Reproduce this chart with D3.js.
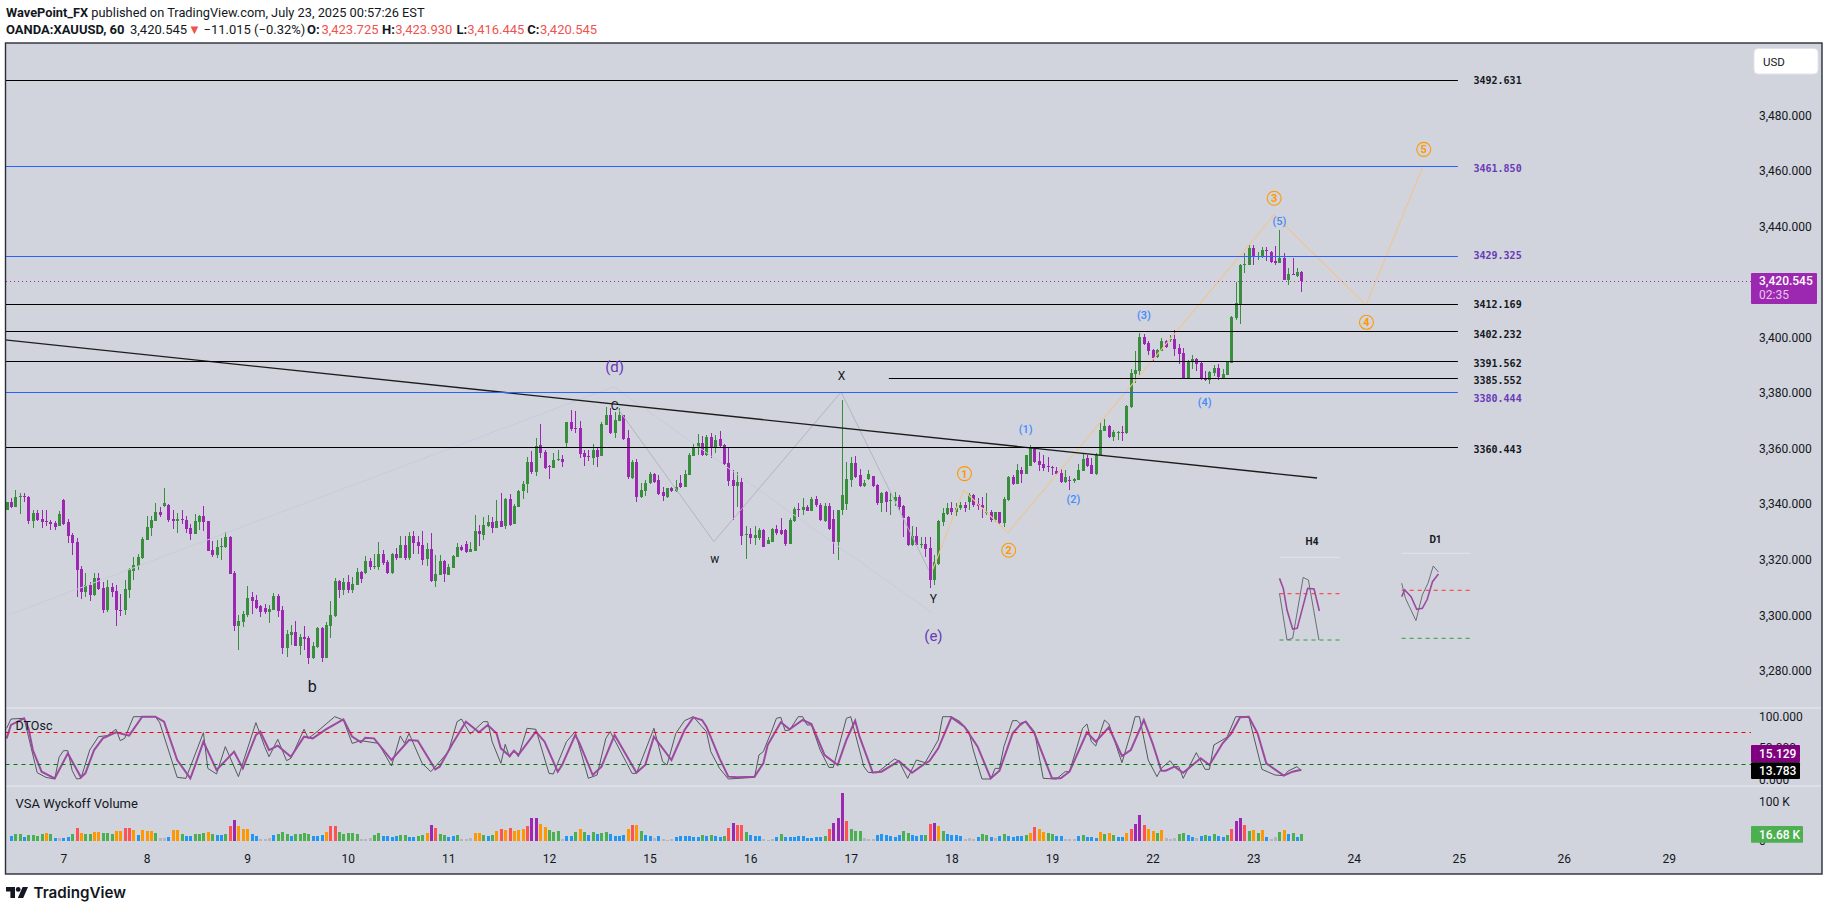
<!DOCTYPE html>
<html>
<head>
<meta charset="utf-8">
<script src="https://cdn.jsdelivr.net/npm/d3@7"></script>
<style>
  html, body { margin: 0; padding: 0; background: #fff; overflow: hidden; }
  svg { display: block; font-family: Roboto, sans-serif; }
</style>
</head>
<body>
<svg id="chart" width="1829" height="911"></svg>
<script>
// hourly candles
const opens = [
  3337.9,3340.9,3339.1,3342.7,3342.9,3342.7,3334.1,3336.8,3334.5,3333.8,
  3333.6,3333.2,3332.3,3341.6,3333.6,3328.9,3326.4,3316.7,3308.4,3310.9,
  3307.3,3313.4,3309.8,3301.9,3310.2,3308.7,3301.9,3301.7,3309.1,3315.9,
  3317.7,3320.6,3327.1,3331.4,3334.1,3337.2,3339.3,3339.7,3334.7,3333.9,
  3334.7,3334.3,3331.4,3329.3,3333.6,3335.7,3333.9,3323.5,3321.7,3324.6,
  3324.6,3328.2,3315.2,3296.1,3297.6,3300.1,3306.6,3305.5,3303.3,3302.6,
  3301.2,3301.9,3306.9,3301.9,3288.2,3292.9,3294,3288.9,3292.2,3291.8,
  3284.6,3288.6,3295.4,3284.6,3296.1,3299.7,3312.3,3309.1,3312,3309.1,
  3310.9,3315.6,3315.2,3319.5,3317.4,3317.4,3322.1,3319.2,3315.2,3322.1,
  3320.6,3325.3,3320.6,3328.5,3326.4,3325.3,3320.3,3323.9,3312.3,3314.5,
  3319.5,3314.5,3317,3321,3324.6,3325.7,3322.8,3323.1,3330.3,3328.9,
  3332.1,3333.6,3331.4,3333.9,3332.1,3341.9,3332.9,3339,3344.7,3347.3,
  3355.2,3351.6,3361.3,3358.8,3353.7,3353,3355.9,3356.3,3362,3369.6,
  3367.4,3367.4,3358.4,3357.3,3356.6,3359.5,3357.3,3368.5,3372.1,3365.5,
  3370.1,3372.1,3363.7,3349.4,3355.2,3342.6,3344.8,3347.5,3350.9,3348.7,
  3344.4,3342.6,3345.8,3344.8,3347.6,3346.2,3350.5,3357.4,3360.2,3362,
  3357.7,3364.2,3360.6,3363.5,3361.3,3354.9,3348.7,3346.6,3348,3328.9,
  3329.3,3327.9,3327.9,3330.7,3325.7,3326.4,3331.1,3330.7,3330.7,3325.7,
  3334,3338.3,3337.9,3339,3337.6,3341.9,3339.7,3334,3339.4,3334.7,
  3326.4,3337.9,3340.1,3348.7,3354.9,3350.5,3346.6,3349.1,3350.2,3346.9,
  3340.4,3344.4,3341.2,3341.2,3342.6,3339.4,3335.4,3325.3,3328.6,3325.3,
  3325.7,3324.2,3312.7,3318.5,3333.6,3336.5,3338.7,3337.2,3338.5,3339.7,
  3340.8,3343.3,3340.1,3339.7,3336.9,3337.2,3334.3,3337.2,3333.2,3341.5,
  3349.8,3347.3,3352.3,3350.9,3353.8,3359.9,3355.6,3354.5,3353.8,3353.5,
  3352,3351.2,3348,3348.7,3348.2,3348.7,3352,3356.7,3354.1,3350.9,
  3357.8,3366.4,3368.2,3364.2,3365.9,3366,3365.7,3375,3387,3388,
  3400.2,3398.1,3395.6,3393,3395.2,3398.8,3399.2,3399.5,3396.3,3394.5,
  3385.5,3391.6,3392.3,3390.9,3385.5,3384.6,3387.2,3389.1,3385.5,3386.6,
  3390.9,3407.1,3412.1,3426.4,3426.2,3432.3,3429.1,3429.1,3431.6,3430.8,
  3427.6,3426.9,3428.7,3420.8,3422.9,3422.2,3423.725
]
const highs = [
  3340.9,3342.1,3345.1,3343.9,3343.9,3342.9,3337.9,3337.9,3337.9,3337.9,
  3334.3,3334.1,3337.5,3342,3334.5,3329.5,3327.7,3317.7,3315.2,3312.1,
  3315.1,3315.1,3312.1,3312.7,3311.7,3310.9,3307.7,3312.7,3316.9,3321.1,
  3322.1,3328.3,3335.7,3335.7,3340.5,3339.1,3345.8,3340.1,3337.9,3336.7,
  3337.9,3335.7,3332.9,3336.5,3336.1,3339.3,3333.9,3326.9,3327.1,3327.7,
  3330,3328.5,3315.9,3300.1,3301.5,3310.5,3308.4,3307.3,3303.7,3304.1,
  3303.7,3308,3307.7,3303.3,3294.7,3296.5,3297.9,3293.3,3296.1,3292.5,
  3290.4,3295.8,3295.9,3297.6,3305.1,3313.3,3312.7,3313.5,3314.5,3313.9,
  3317,3315.9,3321.3,3320.5,3322.1,3326.4,3323.5,3319.9,3322.5,3324.2,
  3328.5,3328.5,3330,3330.2,3328.5,3330.3,3325.9,3329.6,3321.7,3321.7,
  3319.9,3318.5,3321.7,3326,3325.3,3326.7,3326.4,3336.1,3332.5,3335.5,
  3336.1,3335.4,3341.5,3344,3342.2,3343.7,3340.1,3345.1,3348.3,3357,
  3359.1,3363.8,3368.9,3359.5,3354.1,3358.4,3359.5,3357.7,3369.6,3373.9,
  3373.5,3369.9,3359.5,3359.5,3361.7,3360.7,3369.6,3374.9,3374.5,3373.3,
  3374.5,3372.1,3366.7,3355.9,3356.3,3347.5,3348.7,3351.6,3351.2,3350.5,
  3346.3,3345.8,3346.3,3348.7,3350.5,3352.3,3358.3,3361.7,3365.3,3364.6,
  3364.9,3365.5,3364.9,3366.4,3361.7,3360.5,3352.3,3351.6,3349.8,3332,
  3331.3,3332,3331.3,3331.1,3328.3,3331.3,3332.5,3334.9,3331.1,3334.9,
  3338.8,3340.3,3342.1,3339.7,3342.7,3342.9,3340.3,3340.3,3340.3,3337.9,
  3337.9,3377.5,3355.2,3357.1,3357.4,3352.6,3348.7,3352.3,3350.2,3347.3,
  3344.5,3344.9,3343.9,3344.5,3343.3,3339.7,3335.8,3332.2,3331.9,3328.3,
  3328.3,3328.3,3321.7,3334.3,3338.5,3340.3,3340.9,3340.3,3340.9,3340.8,
  3343.9,3343.7,3342.1,3342.7,3343.9,3337.9,3337.3,3337.3,3342.7,3350.2,
  3350.5,3354.5,3353.5,3357.7,3361.3,3360.4,3358.9,3357.7,3357.1,3353.8,
  3353.5,3352.7,3352.3,3350.2,3349.3,3354.5,3358.3,3357.7,3356.7,3358.3,
  3369.6,3370.7,3368.6,3366.8,3366.3,3368.2,3375.8,3388.6,3395.2,3401.8,
  3401.3,3398.6,3395.8,3395.8,3399.8,3399.2,3401,3402.8,3397.7,3396.2,
  3392,3393.8,3392.6,3391.4,3388,3387.8,3390.2,3390.5,3388.6,3391.6,
  3407.8,3420,3426.5,3430.5,3433.4,3433.4,3430.8,3432.5,3432.8,3431.2,
  3433,3438.8,3430.5,3425.1,3428.8,3425.1,3423.93
]
const lows = [
  3337.9,3338.5,3339.1,3336.5,3340.9,3332.9,3331.4,3334.1,3331.4,3332.1,
  3330.7,3330.7,3332.1,3332.5,3326.1,3321.7,3306.7,3305.9,3306.7,3305.1,
  3306.9,3308.9,3300.9,3301.3,3306.7,3296.1,3299.7,3300.1,3306.2,3312.7,
  3316.1,3320.4,3327.1,3328.5,3334.1,3335.5,3339.1,3333.6,3330.9,3329.7,
  3332.9,3329.7,3327.1,3329.3,3330.7,3330.3,3323.1,3321,3320.6,3319.9,
  3324.1,3314.9,3294.3,3287.3,3295.8,3299.5,3300.5,3302.1,3299.5,3300.5,
  3297.2,3301.7,3299.4,3286.1,3285,3289.3,3288.9,3285.7,3287.5,3282.5,
  3284.3,3288.1,3283.2,3284.6,3291.8,3299.4,3306.2,3307.3,3308.1,3308.1,
  3310.9,3311.7,3314.9,3316.3,3316.5,3316.3,3318.1,3314.9,3314.9,3319.9,
  3320.6,3319.9,3319.9,3322.1,3322.1,3318.1,3317.7,3312,3310.3,3314.5,
  3312,3314.5,3317,3321,3323.1,3322.4,3322.8,3323.1,3325,3327.1,
  3331.8,3329.6,3331.4,3331.8,3331.1,3332.1,3332.9,3339,3341.9,3344,
  3350.9,3350.1,3356.6,3352.5,3349.1,3353,3355.5,3353.4,3360.1,3366.3,
  3365.5,3356.6,3353.7,3355.5,3354,3353.4,3357.3,3368.5,3365.2,3363.8,
  3370.1,3363.1,3349,3349,3340.8,3342.1,3343,3347.3,3347.5,3343.3,
  3341.2,3342.3,3344.4,3344.4,3345.8,3346.2,3350.5,3357.4,3357.7,3357.4,
  3357.4,3356.6,3358.3,3360.7,3354.1,3346.6,3334.3,3339.1,3325.3,3320.3,
  3325.7,3325.3,3327.1,3324.6,3325.7,3326.4,3328.9,3328.9,3325,3325.7,
  3333.7,3335.5,3336.1,3337.6,3337.6,3339.1,3334,3333.6,3330.7,3322.1,
  3319.7,3336.1,3337.9,3346.3,3349.3,3346.2,3346.2,3348.7,3346.2,3339.7,
  3337.2,3337.2,3336.1,3339.4,3337.9,3328.3,3325,3325,3325,3324.1,
  3321.1,3309.9,3310.9,3318.1,3332.2,3336.1,3336.1,3335.8,3337.9,3337.3,
  3337.9,3339.1,3337.9,3334.9,3336.1,3333.7,3333.7,3332.9,3331.9,3341.3,
  3346.9,3347.3,3347.5,3350.9,3353.8,3354.7,3352,3352,3351.4,3350.5,
  3350.5,3347.5,3347.5,3345.1,3347.5,3348.7,3352,3353.5,3350.7,3350.5,
  3357.8,3366.2,3363.8,3362.9,3363.2,3362.9,3365.3,3374.6,3383.6,3386.2,
  3397.4,3393.8,3391.4,3392.8,3395.2,3396.3,3398.4,3393.2,3390.5,3385.2,
  3385.2,3388.7,3387.8,3384.8,3384.4,3383.3,3386,3384.8,3385.4,3386.6,
  3390.9,3406.4,3404.9,3423.3,3426.2,3426.2,3428,3428.8,3427.6,3427,
  3426.2,3426.9,3420.8,3419,3422.6,3421.8,3416.445
]
const closes = [
  3340.9,3338.9,3342.6,3342.9,3342.7,3334.1,3336.8,3334.3,3333.6,3333.6,
  3332.9,3331.8,3336.5,3332.9,3328.7,3326.1,3316.3,3308.4,3310.9,3307.3,
  3313.4,3309.5,3301.9,3310.2,3308.4,3301.7,3301.7,3309.5,3316.7,3318.1,
  3321,3327.5,3331.8,3334.3,3337.2,3336.1,3340.4,3334.3,3333.9,3334.7,
  3334.3,3331.1,3329.3,3333.9,3335.7,3333.6,3323.1,3321.7,3324.6,3324.9,
  3328.2,3314.9,3296.1,3297.9,3300.5,3306.2,3305.1,3302.6,3301.2,3301.2,
  3302.3,3306.9,3301.5,3288.2,3293.3,3294,3288.9,3292.2,3291.5,3284.6,
  3288.9,3295.4,3284.6,3296.5,3300.1,3312.3,3309.1,3312,3309.1,3311.3,
  3315.6,3313.1,3319.5,3317.4,3317.7,3322.1,3318.8,3315.2,3322.1,3320.6,
  3325.3,3320.6,3328.5,3326,3324.9,3319.9,3323.9,3312.3,3314.9,3319.5,
  3314.9,3317.4,3321.3,3324.6,3323.5,3322.8,3323.9,3330.3,3329.3,3332.5,
  3333.6,3331.4,3333.9,3331.9,3341.9,3332.5,3339.3,3344.7,3347.3,3355.2,
  3351.6,3360.9,3358.4,3353,3353.4,3355.9,3356.3,3355.2,3369.6,3367.1,
  3367.1,3358.1,3357,3357,3359.5,3357,3368.9,3372.1,3365.5,3370.3,
  3372.1,3363.5,3349.8,3355.2,3342.6,3345.1,3347.6,3350.9,3348,3343.7,
  3343,3345.8,3344.8,3346.2,3346.2,3350.9,3357.7,3360.6,3362,3357.7,
  3364.2,3360.6,3363.1,3361,3354.5,3348.4,3346.6,3348,3328.6,3329.3,
  3327.9,3328.9,3330.7,3324.6,3327.1,3331.1,3329.6,3329.3,3325.7,3334.3,
  3338.3,3337.9,3339,3337.6,3341.9,3339.7,3334.3,3339.4,3331.1,3326.4,
  3337.9,3343.3,3349.1,3354.9,3349.8,3346.6,3347.6,3350.9,3346.6,3340.4,
  3344,3340.8,3341.5,3342.6,3339,3335,3325.3,3328.6,3325.3,3325.7,
  3323.9,3312.7,3319.2,3334,3336.9,3338.7,3337.2,3338.7,3339.7,3338.7,
  3343.3,3339.7,3339.4,3338.7,3337.2,3334.3,3337.2,3333.2,3341.9,3349.8,
  3347.3,3352.3,3350.9,3357.7,3360.2,3355.2,3354.1,3353.1,3353.4,3353.1,
  3350.9,3348,3349.8,3348.2,3349,3352.3,3356.3,3353.8,3350.9,3357.7,
  3366.8,3368.2,3364.2,3366,3366,3365.9,3375.4,3387.3,3388.4,3400.2,
  3397.7,3395.2,3392.7,3395.6,3398.8,3396.6,3399.4,3395.9,3394.1,3385.5,
  3391.6,3392.3,3390.5,3385.1,3384.6,3387.5,3389.1,3385.8,3386.9,3391.2,
  3407.4,3412.5,3426.2,3426.5,3432.3,3429.1,3429.4,3431.6,3431.2,3427.2,
  3426.9,3428.7,3420.8,3422.9,3422.6,3423.6,3420.545
]

// volume in thousands, starts at bar 1 (bar 0 is cut by the left edge)
const volumes = [
  12.8,18,18,10.3,15.4,15.4,12.8,18,20.5,18,
  7.7,7.7,7.7,10.3,18,33.3,20.5,18,18,23.1,
  23.1,20.5,20.5,18,25.7,25.7,33.3,33.3,28.2,15.4,
  28.2,25.7,25.7,20.5,7.7,7.7,10.3,28.2,28.2,18,
  12.8,12.8,18,18,20.5,23.1,18,15.4,15.4,18,
  38.5,53.9,38.5,30.8,30.8,18,12.8,5.1,5.1,7.7,
  15.4,18,23.1,18,12.8,18,18,20.5,18,12.8,
  12.8,15.4,23.1,38.5,38.5,23.1,18,20.5,20.5,18,
  5.1,5.1,7.7,15.4,20.5,12.8,12.8,10.3,12.8,15.4,
  15.4,10.3,10.3,12.8,15.4,20.5,41,33.3,18,
  15.4,10.3,12.8,15.4,5.1,5.1,7.7,20.5,20.5,15.4,
  12.8,15.4,25.7,30.8,28.2,33.3,25.7,28.2,30.8,38.5,
  59,59,43.6,35.9,28.2,23.1,25.7,5.1,12.8,12.8,
  23.1,30.8,23.1,15.4,23.1,18,20.5,23.1,18,12.8,
  12.8,15.4,30.8,41,41,25.7,15.4,12.8,7.7,12.8,
  5.1,2.6,5.1,10.3,12.8,12.8,12.8,10.3,10.3,15.4,
  12.8,15.4,12.8,10.3,12.8,33.3,46.2,41,41,23.1,
  15.4,12.8,12.8,5.1,2.6,5.1,10.3,18,10.3,10.3,
  10.3,12.8,12.8,7.7,7.7,10.3,10.3,12.8,30.8,46.2,
  59,123.1,51.3,30.8,25.7,25.7,7.7,5.1,5.1,15.4,
  18,15.4,12.8,10.3,15.4,25.7,20.5,15.4,12.8,15.4,
  15.4,43.6,46.2,38.5,25.7,18,15.4,15.4,12.8,5.1,
  7.7,5.1,10.3,18,15.4,10.3,7.7,12.8,18,12.8,
  10.3,12.8,12.8,15.4,20.5,35.9,30.8,23.1,20.5,18,
  12.8,12.8,5.1,5.1,5.1,12.8,15.4,10.3,10.3,7.7,
  23.1,18,20.5,15.4,10.3,10.3,20.5,30.8,43.6,66.7,
  41,30.8,25.7,20.5,28.2,7.7,5.1,7.7,18,20.5,
  15.4,10.3,7.7,12.8,15.4,12.8,18,12.8,10.3,15.4,
  30.8,51.3,59,41,25.7,28.2,20.5,28.2,10.3,5.1,
  10.3,23.1,28.2,18,20.5,10.3,16.68
]
// VSA class per bar: Y low, B below average, G average, O above, R high, P climax
const volumeClasses = [
  "BGGBGGGGOG","BYBBGROGGO","OGGGOORROB","OOOGYYBOOG","BBGGGOGBBG",
  "RPOOOBBYYY","BGGGBGGGGB","BBORRGGGGG","YYYGGBBBBG","GBBGGOPRG",
  "GBBGYYYOOG","BGOROROOOR","PPOOGGGYBB","GOGBGBGGBB","BBOROGBBYB",
  "YYYBBBBBBG","BGBBGRPRRG","BBBYYYBGBB","BBBBBBBGRP","PPRGGGYYYB",
  "BBBBBGGBBB","GRPOGBBBBY","YYBGGBYBGB","BBBGOROOGG","BBYYYBGBBB",
  "OGOGBBORPP","ROOGOYYYGG","BBYBGBGBBG","RPPRGOGOBY","YGOBGBG"
].join("")

// DTOsc turning points
const oscFastBars = [0,1,4,5,7,9,11,12,13,14,15,16,17,19,21,23,25,26,27,29,34,35,39,41,45,46,48,50,53,57,59,60,62,64,65,68,69,71,75,77,79,81,85,88,90,91,92,95,97,101,103,104,106,109,110,111,113,114,115,116,117,119,121,124,125,128,130,133,135,137,138,143,144,148,150,151,153,155,157,159,160,161,163,165,171,172,173,175,176,177,178,179,181,182,183,184,186,188,189,192,193,196,197,199,203,204,206,208,210,213,214,216,218,220,221,223,225,226,227,228,230,231,232,233,235,237,240,242,243,246,247,248,249,251,252,255,257,258,259,261,263,264,266,267,268,269,272,274,275,276,279,281,284,287,290,292,293,295,296]
const oscFastValues = [81.2,96,97.1,67.9,10.5,3.1,0.5,35,45.6,45.6,13.7,0.5,1.5,46.6,67.9,69.5,79.6,61.5,65.2,99.7,99.7,90.2,3.1,1.5,74.3,17.4,8.4,52,4.2,90.2,52,36,63.6,29.7,33.4,79.6,65.2,75.9,99.7,94.4,57.3,61.5,57.3,21.2,69,57.3,73.2,25.4,12.1,44,91.8,96,72.1,91.8,91.8,59.9,25.4,55.7,35,46.6,36,81.2,79.6,9.5,8.4,59.9,75.9,1.5,6.8,65.2,75.9,9.5,9.5,81.2,28,22.8,73.2,93.4,99.7,83.8,75.9,44,17.4,0.5,3.1,38.7,44,78.5,97.1,98.7,77.4,78.5,99.7,99.7,86.5,86.5,46.6,19,19,97.1,99.7,20.1,11,10.5,32.3,29.1,1.5,30.7,26.5,62.6,99.7,99.7,91.8,75.9,46.6,0.5,0.5,17.4,17.4,52,93.4,93.4,86.5,92.8,75.9,1.5,0.5,12.1,12.1,81.2,88.1,59.9,53,94.4,88.1,26.5,73.2,99.7,99.7,30.7,4.2,17.4,29.7,20.1,20.1,1.5,42.4,15.9,15.9,54.6,66.8,99.7,99.7,15.9,6.8,5.8,13.2,20.1,13.8]
const oscSlowBars = [0,1,4,5,6,8,11,14,17,18,20,22,25,28,31,34,36,39,42,43,45,48,52,54,57,58,60,62,65,68,70,73,77,79,81,82,84,88,92,94,98,99,102,105,108,110,112,113,115,116,117,121,123,126,127,130,131,134,136,139,141,144,146,148,152,155,157,159,160,163,165,167,171,173,174,177,179,182,184,187,190,192,194,195,198,200,204,207,210,211,213,216,219,222,225,227,230,232,233,235,239,241,243,247,249,252,255,257,260,262,264,265,267,269,273,275,278,280,282,284,286,288,292,294,296]
const oscSlowValues = [65,86.5,97.1,81.2,46.6,12.1,1.5,41.3,3.1,9.5,46.6,65.2,74.8,69.5,99.7,99.7,91.8,30.7,1.5,20.1,59.9,14.8,44,17.4,70.5,75.9,46.6,53.6,36,67.9,65.2,79.6,95.5,67.9,58.9,66.3,65.2,30.7,62.6,61.5,15.9,20.1,57.3,91.8,74.8,86.5,73.2,49.3,37.1,45.6,38.7,75.9,59.9,12.1,22.8,70.5,57.3,6.8,20.1,70.5,46.6,10.5,22.8,67.9,30.7,78.5,98.7,94.4,83.8,33.4,4.2,3.1,4.2,25.4,54.6,90.7,79.6,94.4,88.1,38.7,22.8,62.6,93.4,67.9,11,12.1,29.1,10.5,25.4,29.1,49.3,98.7,83.8,52,1.5,13.7,73.2,89.1,91.8,73.2,1.5,1.5,12.1,74.8,59.9,82.8,37.1,46.6,94.4,57.3,13.7,13.7,20.1,10.5,33.4,22.8,57.3,73.2,98.7,99.7,73.2,25.4,5.8,12.1,15.129]

// drawn horizontal levels
const levelPrices = [3492.631,3461.85,3429.325,3412.169,3402.232,3391.562,3385.552,3380.444,3360.443]
const levelKinds = ["black","blue","blue","black","black","black","black","blue","black"]
const levelStartBars = [-3,-3,-3,-3,-3,-3,201.7,-3,-3]
const levelEndBar = 331.8
const levelLabelDy = [0,3,-1,1,3.5,2,3,7,2.5]

// wave paths as [bar, price]
const trendLine = [[-3,3399.6],[299.6,3349.4]]
const faintWave = [[0.5,3300.1],[138.8,3382.3],[211.7,3300.7]]
const greyWave = [[139.7,3374.5],[161.7,3326.5],[190.8,3380.4],[210.8,3316.3]]
const peachWave = [[211.7,3316.3],[218.8,3345],[228.9,3329.7],[289.8,3444.2],[310.8,3411.7],[323.8,3461.6]]

// wave labels
const waveLabelText = ["(d)","(e)","C","w","X","Y","b","(1)","(2)","(3)","(4)","(5)"]
const waveLabelBars = [139,211.9,139,161.9,190.9,211.9,69.9,233,243.9,260,273.9,291]
const waveLabelPrices = [3389.5,3292.5,3375.4,3320.2,3386.2,3305.8,3274.2,3367,3341.7,3408,3376.7,3441.9]
const waveLabelKinds = ["big","big","black","black","black","black","bigblack","blue","blue","blue","blue","blue"]
const circleText = ["1","2","3","4","5"]
const circleBars = [219,229.1,289.8,310.9,324]
const circlePrices = [3351,3323.4,3450.2,3405.5,3467.8]

// axes
const priceTicks = [3480,3460,3440,3400,3380,3360,3340,3320,3300,3280]
const oscTicks = [100,50,0]
const dayLabels = ["7","8","9","10","11","12","15","16","17","18","19","22","23","24","25","26","29"]
const dayBars = [13,32,55,78,101,124,147,170,193,216,239,262,285,308,332,356,380]

// small H4 / D1 insets, x in percent of the inset width
const h4GreyX = [0,12.5,21.9,39.4,48.1,65.6]
const h4GreyV = [80.4,20,22.2,101.2,97.7,20]
const h4PurpleX = [0,6.3,12.5,21.9,29.4,46.9,57.5,66.3]
const h4PurpleV = [99.9,86.9,58.8,34.2,35.1,86.9,86,57.6]
const d1GreyX = [0,5.5,20.9,30.2,38.5,46.2,53.8]
const d1GreyV = [88.8,70,42.1,74.2,88.8,110.4,102.9]
const d1PurpleX = [0,4.4,13.7,22,30.2,37.4,45.1,53.8]
const d1PurpleV = [72.1,80.4,72.1,56.3,57.5,68.8,90.8,100.4]

const GREEN = "#388e3c"
const PURPLE = "#9c27b0"
const INK = "#131722"

const svg = d3.select("#chart")
const plot = { left: 5.5, right: 1822, top: 43, bottom: 874 }

const x = d3.scaleLinear().domain([0, 296]).range([6.6, 1301.3])
const yPrice = d3.scaleLinear().domain([3480, 3280]).range([115.5, 670.7])
const yOsc = d3.scaleLinear().domain([100, 0]).range([716.5, 779.3])
const yVol = d3.scaleLinear().domain([0, 100]).range([841, 802])

svg.append("defs").append("clipPath").attr("id", "plot-clip")
  .append("rect")
  .attr("x", plot.left).attr("y", plot.top)
  .attr("width", plot.right - plot.left).attr("height", plot.bottom - plot.top)

svg.append("rect")
  .attr("x", plot.left).attr("y", plot.top)
  .attr("width", plot.right - plot.left).attr("height", plot.bottom - plot.top)
  .attr("fill", "#d1d4dc")

const g = svg.append("g").attr("clip-path", "url(#plot-clip)")

// pane separators
g.selectAll(".sep").data([708, 786]).enter().append("line")
  .attr("x1", plot.left).attr("x2", plot.right)
  .attr("y1", d => d).attr("y2", d => d)
  .attr("stroke", "#e0e3eb").attr("stroke-width", 1.5)

// candles
const bars = d3.range(opens.length)
const candleColor = i => closes[i] >= opens[i] ? GREEN : PURPLE

g.append("g").attr("shape-rendering", "crispEdges")
  .selectAll("line").data(bars).enter().append("line")
  .attr("x1", i => Math.round(x(i)) + 0.5).attr("x2", i => Math.round(x(i)) + 0.5)
  .attr("y1", i => yPrice(highs[i])).attr("y2", i => yPrice(lows[i]))
  .attr("stroke", candleColor).attr("stroke-width", 1)

g.append("g").attr("shape-rendering", "crispEdges")
  .selectAll("rect").data(bars).enter().append("rect")
  .attr("x", i => Math.round(x(i)) - 1)
  .attr("width", 3)
  .attr("y", i => yPrice(Math.max(opens[i], closes[i])))
  .attr("height", i => Math.max(1, Math.abs(yPrice(opens[i]) - yPrice(closes[i]))))
  .attr("fill", candleColor)

// current price line, snapped so the dots stay crisp
const lastClose = closes[closes.length - 1]
svg.append("line")
  .attr("x1", plot.left).attr("x2", 1751)
  .attr("y1", Math.round(yPrice(lastClose)) + 0.5).attr("y2", Math.round(yPrice(lastClose)) + 0.5)
  .attr("stroke", PURPLE).attr("stroke-width", 1).attr("stroke-dasharray", "1,3")
  .attr("shape-rendering", "crispEdges")

// wave paths
const wavePath = d3.line().x(d => x(d[0])).y(d => yPrice(d[1]))
g.append("path").datum(faintWave).attr("d", wavePath)
  .attr("fill", "none").attr("stroke", "#c9cbd9").attr("stroke-width", 1)
g.append("path").datum(greyWave).attr("d", wavePath)
  .attr("fill", "none").attr("stroke", "#b2b5be").attr("stroke-width", 1)
g.append("path").datum(peachWave).attr("d", wavePath)
  .attr("fill", "none").attr("stroke", "#eec594").attr("stroke-width", 1.1)
g.append("path").datum(trendLine).attr("d", wavePath)
  .attr("fill", "none").attr("stroke", "#1c1c1c").attr("stroke-width", 1.4)

// horizontal levels and their labels
g.selectAll(".level").data(levelPrices).enter().append("line")
  .attr("x1", (d, i) => x(levelStartBars[i])).attr("x2", x(levelEndBar))
  .attr("y1", d => Math.round(yPrice(d)) + 0.5).attr("y2", d => Math.round(yPrice(d)) + 0.5)
  .attr("stroke", (d, i) => levelKinds[i] === "blue" ? "#2962ff" : "#000")
  .attr("stroke-width", 1)

svg.selectAll(".level-label").data(levelPrices).enter().append("text")
  .attr("x", 1473.5)
  .attr("y", (d, i) => yPrice(d) + levelLabelDy[i])
  .attr("dy", "0.35em")
  .attr("font-family", "'DejaVu Sans Mono', monospace")
  .attr("font-size", 10).attr("font-weight", "bold")
  .attr("fill", (d, i) => levelKinds[i] === "blue" ? "#673ab7" : INK)
  .text(d => d.toFixed(3))

// wave labels
const labelStyle = {
  big: { color: "#673ab7", size: 15 },
  bigblack: { color: INK, size: 16 },
  black: { color: INK, size: 12 },
  blue: { color: "#448aff", size: 11 }
}
svg.selectAll(".wave-label").data(waveLabelText).enter().append("text")
  .attr("x", (d, i) => x(waveLabelBars[i]))
  .attr("y", (d, i) => yPrice(waveLabelPrices[i]))
  .attr("dy", "0.35em").attr("text-anchor", "middle")
  .attr("font-size", (d, i) => labelStyle[waveLabelKinds[i]].size)
  .attr("font-weight", (d, i) => waveLabelKinds[i] === "blue" ? 500 : 400)
  .attr("fill", (d, i) => labelStyle[waveLabelKinds[i]].color)
  .text(d => d)

const circles = svg.selectAll(".circle-label").data(circleText).enter().append("g")
  .attr("transform", (d, i) => `translate(${x(circleBars[i])},${yPrice(circlePrices[i])})`)
circles.append("circle").attr("r", 7)
  .attr("fill", "none").attr("stroke", "#ff9800").attr("stroke-width", 1.1)
circles.append("text")
  .attr("dy", "0.36em").attr("text-anchor", "middle")
  .attr("font-size", 11).attr("font-weight", 700).attr("fill", "#ff9800")
  .text(d => d)

// H4 / D1 insets
function drawInset(title, left, right, yRed, yGreen, lineY, titleX, titleY, greyX, greyV, purpleX, purpleV) {
  const ix = d3.scaleLinear().domain([0, 100]).range([left, right])
  const iy = d3.scaleLinear().domain([20, 80]).range([yGreen, yRed])
  const inset = svg.append("g")
  inset.append("text").attr("x", titleX).attr("y", titleY).attr("dy", "0.35em")
    .attr("text-anchor", "middle").attr("font-size", 10).attr("font-weight", 700)
    .attr("fill", INK).text(title)
  inset.append("line").attr("x1", left).attr("x2", right).attr("y1", lineY).attr("y2", lineY)
    .attr("stroke", "#dfe1e8").attr("stroke-width", 1.2)
  inset.append("line").attr("x1", left).attr("x2", right).attr("y1", yRed).attr("y2", yRed)
    .attr("stroke", "#ff3030").attr("stroke-dasharray", "4,4")
  inset.append("line").attr("x1", left).attr("x2", right).attr("y1", yGreen).attr("y2", yGreen)
    .attr("stroke", "#2e9e3a").attr("stroke-dasharray", "4,4")
  const insetLine = d3.line().x(d => ix(d[0])).y(d => iy(d[1]))
  inset.append("path").datum(d3.zip(greyX, greyV)).attr("d", insetLine)
    .attr("fill", "none").attr("stroke", "#6b6e78").attr("stroke-width", 1)
  inset.append("path").datum(d3.zip(purpleX, purpleV)).attr("d", insetLine)
    .attr("fill", "none").attr("stroke", "#9c4a9f").attr("stroke-width", 1.6)
}
drawInset("H4", 1279.5, 1339.6, 593.7, 640, 557.3, 1312, 541, h4GreyX, h4GreyV, h4PurpleX, h4PurpleV)
drawInset("D1", 1401.7, 1470, 590.3, 638.3, 553.3, 1435.5, 539.3, d1GreyX, d1GreyV, d1PurpleX, d1PurpleV)

// oscillator pane
const oscLevels = [{ v: 75, c: "#ff0000" }, { v: 25, c: "#008000" }]
svg.selectAll(".osc-level").data(oscLevels).enter().append("line")
  .attr("x1", plot.left).attr("x2", 1751)
  .attr("y1", d => Math.round(yOsc(d.v)) + 0.5).attr("y2", d => Math.round(yOsc(d.v)) + 0.5)
  .attr("stroke", d => d.c).attr("stroke-width", 1).attr("stroke-dasharray", "4,4")

const oscLine = d3.line().x(d => x(d[0])).y(d => yOsc(d[1]))
g.append("path").datum(d3.zip(oscFastBars, oscFastValues)).attr("d", oscLine)
  .attr("fill", "none").attr("stroke", "#555861").attr("stroke-width", 1)
g.append("path").datum(d3.zip(oscSlowBars, oscSlowValues)).attr("d", oscLine)
  .attr("fill", "none").attr("stroke", "#9c4a9f").attr("stroke-width", 2)

svg.append("text").attr("x", 15.5).attr("y", 726).attr("dy", "0.35em")
  .attr("font-size", 12.5).attr("fill", INK).text("DTOsc")

// volume pane
const volumeColors = { Y: "#b2b5be", B: "#2196f3", G: "#4caf50", O: "#ff9800", R: "#ff5252", P: "#9c27b0" }
g.append("g").attr("shape-rendering", "crispEdges")
  .selectAll("rect").data(volumes).enter().append("rect")
  .attr("x", (d, i) => Math.round(x(i + 1)) - 1)
  .attr("width", 3)
  .attr("y", d => yVol(d))
  .attr("height", d => yVol(0) - yVol(d))
  .attr("fill", (d, i) => volumeColors[volumeClasses[i]])

svg.append("text").attr("x", 15.5).attr("y", 803.5).attr("dy", "0.35em")
  .attr("font-size", 13).attr("fill", INK).text("VSA Wyckoff Volume")

// plot border
svg.append("rect")
  .attr("x", plot.left).attr("y", plot.top)
  .attr("width", plot.right - plot.left).attr("height", plot.bottom - plot.top)
  .attr("fill", "none").attr("stroke", "#2a2e39").attr("stroke-width", 1.4)

// price axis
const priceAxis = svg.append("g").attr("transform", "translate(1751,0)")
  .call(d3.axisRight(yPrice).tickValues(priceTicks).tickSize(0).tickPadding(8).tickFormat(d3.format(",.3f")))
priceAxis.select(".domain").remove()
priceAxis.selectAll("text").attr("font-family", "Roboto, sans-serif").attr("font-size", 12).attr("fill", INK)

const oscAxis = svg.append("g").attr("transform", "translate(1751,0)")
  .call(d3.axisRight(yOsc).tickValues(oscTicks).tickSize(0).tickPadding(8).tickFormat(d3.format(".3f")))
oscAxis.select(".domain").remove()
oscAxis.selectAll("text").attr("font-family", "Roboto, sans-serif").attr("font-size", 12).attr("fill", INK)

const volAxis = svg.append("g").attr("transform", "translate(1751,0)")
  .call(d3.axisRight(yVol).tickValues([100, 0]).tickSize(0).tickPadding(8).tickFormat(d => d ? d + " K" : "0"))
volAxis.select(".domain").remove()
volAxis.selectAll("text").attr("font-family", "Roboto, sans-serif").attr("font-size", 12).attr("fill", INK)

// time axis
const timeAxis = svg.append("g").attr("transform", "translate(0,851)")
  .call(d3.axisBottom(x).tickValues(dayBars).tickSize(0).tickPadding(3).tickFormat((d, i) => dayLabels[i]))
timeAxis.select(".domain").remove()
timeAxis.selectAll("text").attr("font-family", "Roboto, sans-serif").attr("font-size", 12).attr("fill", INK)

// right hand value tags
function tag(left, top, width, height, fill, lines) {
  svg.append("rect").attr("x", left).attr("y", top).attr("width", width).attr("height", height)
    .attr("fill", fill).attr("rx", 1)
  lines.forEach(l => {
    svg.append("text").attr("x", left + 8).attr("y", l.y).attr("dy", "0.35em")
      .attr("font-size", 12).attr("font-weight", l.weight || 500)
      .attr("fill", l.color || "#fff").text(l.text)
  })
}
tag(1751, 273, 66, 31, PURPLE, [
  { text: d3.format(",.3f")(lastClose), y: 280.7 },
  { text: "02:35", y: 295, color: "#e6c8ec", weight: 400 }
])
tag(1751, 745, 49, 17.3, "#800080", [{ text: "15.129", y: 753.7 }])
tag(1751, 762.3, 49, 16.7, "#000", [{ text: "13.783", y: 770.7 }])
tag(1751, 826, 52, 16.7, "#4caf50", [{ text: "16.68 K", y: 834.5 }])

// currency button
svg.append("rect").attr("x", 1754).attr("y", 48.5).attr("width", 64).attr("height", 25.5)
  .attr("rx", 4).attr("fill", "#fff").attr("stroke", "#e0e3eb")
svg.append("text").attr("x", 1763).attr("y", 61.5).attr("dy", "0.35em")
  .attr("font-size", 11.5).attr("fill", INK).text("USD")

// header
const headerTop = svg.append("text").attr("x", 6).attr("y", 12.5).attr("dy", "0.35em")
  .attr("font-size", 12.8).attr("fill", INK)
headerTop.append("tspan").attr("font-weight", 700).text("WavePoint_FX")
headerTop.append("tspan").text(" published on TradingView.com, July 23, 2025 00:57:26 EST")

const RED = "#ef5350"
const headerParts = [
  { x: 6, text: "OANDA:XAUUSD, 60", weight: 700, color: INK },
  { x: 130, text: "3,420.545", color: INK },
  { x: 188, text: "▼", color: RED },
  { x: 203.5, text: "−11.015 (−0.32%)", color: INK },
  { x: 307, text: "O:", weight: 700, color: INK },
  { x: 321.4, text: "3,423.725", color: RED },
  { x: 382, text: "H:", weight: 700, color: INK },
  { x: 395.3, text: "3,423.930", color: RED },
  { x: 456.4, text: "L:", weight: 700, color: INK },
  { x: 467.3, text: "3,416.445", color: RED },
  { x: 527.2, text: "C:", weight: 700, color: INK },
  { x: 540, text: "3,420.545", color: RED }
]
svg.selectAll(".head").data(headerParts).enter().append("text")
  .attr("x", d => d.x).attr("y", 29.5).attr("dy", "0.35em")
  .attr("font-size", 13).attr("font-weight", d => d.weight || 400)
  .attr("fill", d => d.color).text(d => d.text)

// TradingView mark
const logo = svg.append("g").attr("fill", "#131722")
logo.append("path").attr("d", "M6 887h9v11h-4.6v-6.6H6z")
logo.append("circle").attr("cx", 18.2).attr("cy", 889.4).attr("r", 2.4)
logo.append("path").attr("d", "M22.6 887H28l-4.8 11h-5.4z")
svg.append("text").attr("x", 33.5).attr("y", 892.7).attr("dy", "0.35em")
  .attr("font-family", "Inter, Roboto, sans-serif")
  .attr("font-size", 15.2).attr("font-weight", 600).attr("fill", "#131722").text("TradingView")
</script>
</body>
</html>
